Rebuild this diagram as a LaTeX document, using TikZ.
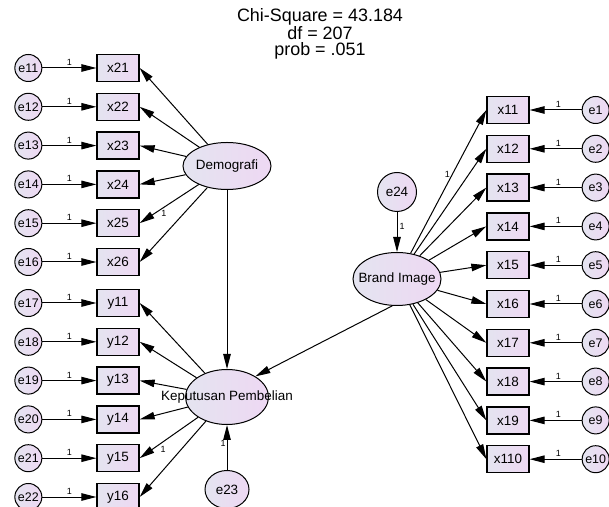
\documentclass[tikz,border=0pt]{standalone}
\usepackage{fontspec}
\setmainfont{Liberation Sans}
\usetikzlibrary{arrows.meta,positioning,shapes.geometric}
\definecolor{lavL}{RGB}{228,228,240}
\definecolor{lavR}{RGB}{238,216,243}

\begin{document}
\begin{tikzpicture}[x=1bp, y=1bp, >={Triangle[length=15bp,width=7.5bp]},
	line width=1bp, node distance=10.5bp]
	
	\tikzstyle{obs}=[draw, line width=1.3bp, left color=lavL, right color=lavR,
	minimum width=42bp, minimum height=27bp, inner sep=1bp,
	font=\fontsize{13.5}{13.5}\selectfont]
	\tikzstyle{err}=[draw, circle, line width=1bp, left color=lavL, right color=lavR,
	minimum size=27bp, inner sep=0.5bp, font=\fontsize{12.5}{12.5}\selectfont]
	\tikzstyle{lat}=[draw, ellipse, line width=1bp, left color=lavL, right color=lavR,
	inner sep=0pt, font=\fontsize{13.5}{13.5}\selectfont]
	\tikzstyle{fix}=[font=\fontsize{9}{9}\selectfont, inner sep=2bp]
	
	\useasboundingbox (0,0) rectangle (609,507);
	
	% Fit statistics
	\node[align=center, font=\fontsize{18}{16.5}\selectfont] (fit) at (320,473)
	{Chi-Square = 43.184\\ df = 207\\ prob = .051};
	
	% Latent variables
	\node[lat, minimum width=88bp, minimum height=47bp] (dem) at (227,341)
	{\makebox[0pt]{Demografi}};
	\node[lat, minimum width=83bp, minimum height=55bp] (kep) at (227,110)
	{\makebox[0pt]{Keputusan Pembelian}};
	\node[lat, minimum width=88bp, minimum height=53bp] (bi) at (397,228)
	{\makebox[0pt]{Brand Image}};
	
	% Disturbances
	\node[err, minimum size=39bp, font=\fontsize{13.5}{13.5}\selectfont,
	above=40bp of bi] (e24) {e24};
	\node[err, ellipse, minimum width=44bp, minimum height=38bp,
	font=\fontsize{13.5}{13.5}\selectfont, below=45bp of kep] (e23) {e23};
	
	% Demografi indicators
	\node[obs] (x21) at (118,439) {x21};
	\foreach \i/\p in {22/21,23/22,24/23,25/24,26/25}
	\node[obs, below=of x\p] (x\i) {x\i};
	
	% Keputusan Pembelian indicators
	\node[obs] (y11) at (118,204) {y11};
	\foreach \i/\p in {12/11,13/12,14/13,15/14,16/15}
	\node[obs, below=of y\p] (y\i) {y\i};
	
	% Brand Image indicators
	\node[obs] (x11) at (508,397) {x11};
	\foreach \i/\p in {12/11,13/12,14/13,15/14,16/15,17/16,18/17,19/18,110/19}
	\node[obs, below=of x\p] (x\i) {x\i};
	
	% Measurement errors
	\foreach \i/\e in {21/11,22/12,23/13,24/14,25/15,26/16} {
		\node[err, left=54bp of x\i] (e\e) {e\e};
		\draw[->] (e\e) -- node[fix, above]{1} (x\i);
	}
	\foreach \i/\e in {11/17,12/18,13/19,14/20,15/21,16/22} {
		\node[err, left=54bp of y\i] (e\e) {e\e};
		\draw[->] (e\e) -- node[fix, above]{1} (y\i);
	}
	\foreach \i/\e in {11/1,12/2,13/3,14/4,15/5,16/6,17/7,18/8,19/9,110/10} {
		\node[err, right=52bp of x\i] (e\e) {e\e};
		\draw[->] (e\e) -- node[fix, above, pos=0.45]{1} (x\i);
	}
	
	% Loadings
	\foreach \i in {21,22,23,24,26}
	\draw[->] (dem) -- (x\i.east);
	\draw[->] (dem) -- node[fix, pos=0.59, below]{1} (x25.east);
	
	\foreach \i in {11,12,13,14,16}
	\draw[->] (kep) -- (y\i.east);
	\draw[->] (kep) -- node[fix, pos=0.6, below, yshift=-2bp]{1} (y15.east);
	
	\foreach \i in {12,13,14,15,16,17,18,19,110}
	\draw[->] (bi) -- (x\i.west);
	\draw[->] (bi) -- node[fix, pos=0.55, left]{1} (x11.west);
	
	% Structural paths
	\draw[->] (dem) -- (kep);
	\draw[->] (bi.260) -- (kep.36);
	\draw[->] (e24) -- node[fix, pos=0.35, right]{1} (bi);
	\draw[->] (e23) -- node[fix, pos=0.6, left, inner sep=1bp]{1} (kep);
	
\end{tikzpicture}
\end{document}
